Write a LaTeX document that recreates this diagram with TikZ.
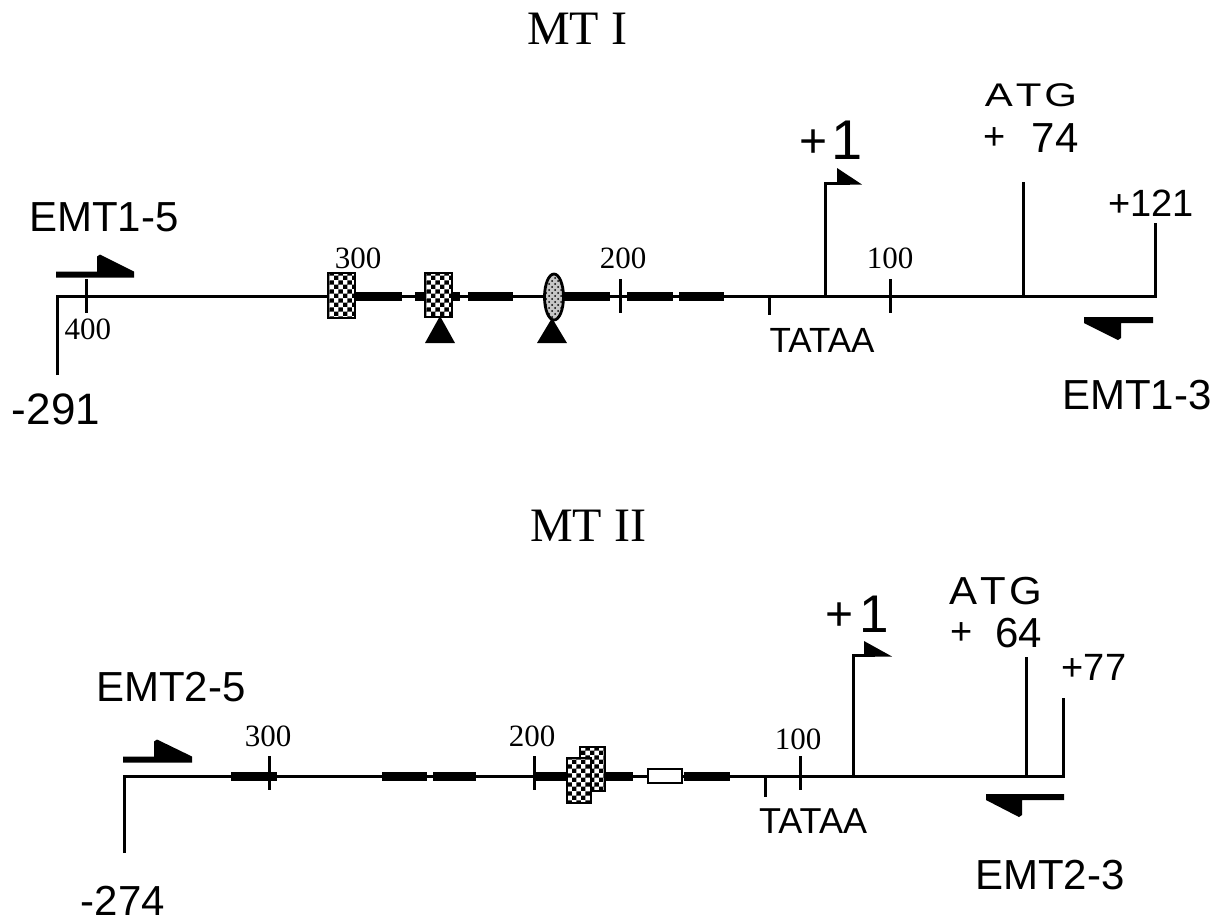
\documentclass[tikz,border=0pt]{standalone}
\usepackage{fontspec}
\setmainfont{Liberation Serif}
\setsansfont{Liberation Sans}
\usetikzlibrary{patterns}

\pgfdeclarepatternformonly{finecheck}{\pgfqpoint{0pt}{0pt}}{\pgfqpoint{4.4pt}{4.4pt}}{\pgfqpoint{4.4pt}{4.4pt}}{%
  \pgfpathrectangle{\pgfqpoint{0pt}{0pt}}{\pgfqpoint{2.2pt}{2.2pt}}%
  \pgfpathrectangle{\pgfqpoint{2.2pt}{2.2pt}}{\pgfqpoint{2.2pt}{2.2pt}}%
  \pgfusepath{fill}}

% half-arrow primers: x0, x1, y of the bar, x of the barb
\newcommand{\fwdprimer}[4]{%
  \fill (#1,#3+3) -- (#2,#3+3) -- (#2,#3-3) -- (#4+3,#3-20) -- (#4,#3-18) -- (#4,#3-3) -- (#1,#3-3) -- cycle;}
\newcommand{\revprimer}[4]{%
  \fill (#2,#3-3) -- (#1,#3-3) -- (#1,#3+3) -- (#4-3,#3+20) -- (#4,#3+18) -- (#4,#3+3) -- (#2,#3+3) -- cycle;}

\begin{document}
\begin{tikzpicture}[x=0.5pt,y=-0.5pt,
  dna/.style={line width=1.5pt},
  seg/.style={line width=4.5pt},
  scaletick/.style={line width=1.5pt},
  site/.style={draw,line width=1.4pt,preaction={fill=white},pattern=finecheck},
  lab/.style={inner sep=0pt,font=\sffamily\fontsize{21}{21}\selectfont},
  num/.style={inner sep=0pt,font=\fontsize{15.5}{15.5}\selectfont},
  gtitle/.style={inner sep=0pt,font=\fontsize{24}{24}\selectfont}]
\useasboundingbox (0,0) rectangle (1222,923);

% MT I
\node[gtitle] (t1) at (577,29) {MT I};
\draw[dna] (57,375) -- (57,296) -- (1155,296) -- (1155,223);
\foreach \a/\b in {355/402,415/425,452/460,468/513,563/610,627/673,679/724}
  \draw[seg] (\a,296) -- (\b,296);
\foreach \x in {86,620,890}
  \draw[scaletick] (\x,279) -- (\x,313);
\draw[scaletick] (769,296) -- (769,315);
\fill (425,343) -- (455,343) -- (440,316) -- cycle;
\fill (537,343) -- (567,343) -- (552,318) -- cycle;
\draw[site] (328,273) rectangle (355,318);
\draw[site] (425,273) rectangle (452,317);
\draw[line width=1.4pt,preaction={fill=gray!45},pattern=crosshatch dots] (554,297) ellipse [x radius=9.5,y radius=23];
\draw[dna] (825,296) -- (825,183) -- (850,183);
\fill (837,168) -- (862,184.5) -- (837,184.5) -- cycle;
\draw[dna] (1023,296) -- (1023,182);
\fwdprimer{56}{134}{274.5}{97}
\revprimer{1084}{1153}{320}{1121}

\node[lab] (p15) at (104,217) {EMT1-5};
\node[lab] (p13) at (1137,395) {EMT1-3};
\node[lab,font=\sffamily\fontsize{22}{22}\selectfont] (s1) at (56,409) {-291};
\node[lab,font=\sffamily\fontsize{19}{19}\selectfont] (e1) at (1151,203) {+121};
\node[lab,font=\sffamily\fontsize{17.5}{17.5}\selectfont] (tata1) at (822,340) {TATAA};
\node[lab] (tss1) at (831,140) {\raisebox{1pt}{\fontsize{24}{24}\selectfont +}\kern2pt{\fontsize{28}{28}\selectfont 1}};
\node[lab] (atg1) at (1031,95) {\scalebox{1}[0.78]{A\kern1.5pt T\kern1.5pt G}};
\node[lab] (pos1) at (1031,138) {\raisebox{1.5pt}{\fontsize{19}{19}\selectfont +}\hspace{13pt}74};
\node[num] (n400) at (88,329) {400};
\node[num] (n300a) at (358,258) {300};
\node[num] (n200a) at (623,258) {200};
\node[num] (n100a) at (890,258) {100};

% MT II
\node[gtitle] (t2) at (588,526) {MT II};
\draw[dna] (124,853) -- (124,776) -- (1063,776) -- (1063,698);
\foreach \a/\b in {231/277,382/427,433/476,534/567,605/633,684/730}
  \draw[seg] (\a,776) -- (\b,776);
\foreach \x in {269,534,800}
  \draw[scaletick] (\x,756) -- (\x,790);
\draw[scaletick] (765,776) -- (765,797);
\draw[site] (580,747) rectangle (605,791);
\draw[site] (567,758) rectangle (591,803);
\draw[line width=1pt,fill=white] (648,769) rectangle (682,783);
\draw[dna] (853,776) -- (853,655) -- (875,655);
\fill (864,641) -- (892,656.5) -- (864,656.5) -- cycle;
\draw[dna] (1026,776) -- (1026,657);
\fwdprimer{123}{192}{759.5}{154}
\revprimer{986}{1064}{797}{1022}

\node[lab] (p25) at (171,687) {EMT2-5};
\node[lab] (p23) at (1050,875) {EMT2-3};
\node[lab] (s2) at (123,901) {-274};
\node[lab,font=\sffamily\fontsize{19}{19}\selectfont] (e2) at (1094,667) {+77};
\node[lab,font=\sffamily\fontsize{18}{18}\selectfont] (tata2) at (813,821) {TATAA};
\node[lab] (tss2) at (857,614) {\raisebox{1pt}{\fontsize{24}{24}\selectfont +}\kern3pt{\fontsize{26.5}{26.5}\selectfont 1}};
\node[lab] (atg2) at (996,591) {\scalebox{1}[0.93]{A\kern1.5pt T\kern1.5pt G}};
\node[lab] (pos2) at (996,633) {\raisebox{1.5pt}{\fontsize{19}{19}\selectfont +}\hspace{11.5pt}64};
\node[num] (n300b) at (268,736) {300};
\node[num] (n200b) at (532,736) {200};
\node[num] (n100b) at (798,739) {100};
\end{tikzpicture}
\end{document}
